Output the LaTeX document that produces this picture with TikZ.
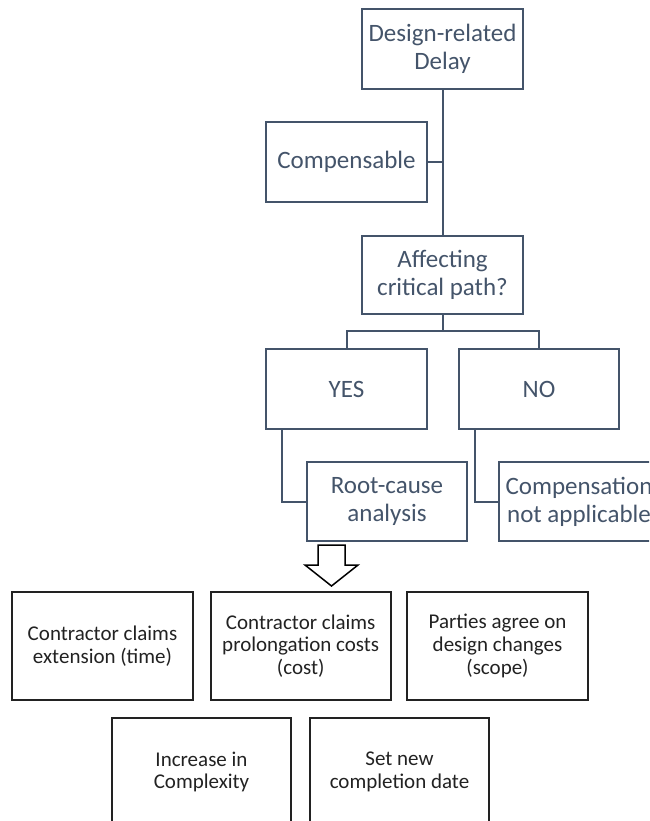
\documentclass[tikz,border=0pt]{standalone}
\usepackage{fontspec}
\setmainfont{Carlito}
\definecolor{slate}{HTML}{44546A}
\definecolor{ink}{HTML}{222222}
\begin{document}
\begin{tikzpicture}[x=1pt,y=-1pt,
  tbox/.style={draw=slate, line width=2pt, text=slate, align=center, inner sep=2pt,
    font=\fontsize{25}{28}\selectfont, minimum width=161pt, minimum height=80pt},
  bbox/.style={draw=ink, line width=1.8pt, text=ink, align=center, inner sep=2pt,
    font=\fontsize{21}{22.7}\selectfont, minimum width=181pt, minimum height=108pt},
  conn/.style={draw=slate, line width=2pt},
  blockarrow/.style={draw=black, line width=1.5pt, fill=white, line join=miter}]
\path[use as bounding box] (0,0) rectangle (649,821);
\clip (0,0) rectangle (649,821);

% top tree
\node[tbox] (design) at (442.5,49) {Design-related\\Delay};
\node[tbox] (comp) at (346.5,162) {Compensable};
\node[tbox, minimum height=78pt] (affect) at (442.5,275) {Affecting\\critical path?};
\node[tbox] (yes) at (346.5,389) {YES};
\node[tbox, minimum width=160pt] (no) at (539,389) {NO};
\node[tbox, minimum width=160pt, minimum height=79pt] (root) at (387,501.5) {Root-cause\\analysis};
\node[tbox, minimum width=160pt, minimum height=79pt] (napp) at (579,501.5) {Compensation\\not applicable};

\coordinate (split) at (442.5,331);

\draw[conn] (design.south) -- (affect.north);
\draw[conn] (comp.east) -- (comp.east -| design.south);
\draw[conn] (affect.south) -- (split) -| (yes.north);
\draw[conn] (split) -| (no.north);
\draw[conn] ([xshift=16.5pt]yes.south west) |- (root.west);
\draw[conn] ([xshift=16.5pt]no.south west) |- (napp.west);

% block arrow
\coordinate (arr) at (331.5,545);
\draw[blockarrow] (arr) ++(-13.5,0) -- ++(27,0) -- ++(0,20) -- ++(13,0)
  -- (331.5,586) -- (305,565) -- ++(13,0) -- cycle;

% bottom boxes
\node[bbox] (b1) at (102.5,646) {Contractor claims\\extension (time)};
\node[bbox, minimum width=180pt] (b2) at (300.7,646) {Contractor claims\\prolongation costs\\(cost)};
\node[bbox] (b3) at (497.5,646) {Parties agree on\\design changes\\(scope)};
\node[bbox, minimum width=179pt] (b4) at (201.5,772) {Increase in\\Complexity};
\node[bbox, minimum width=179pt] (b5) at (399.5,772) {Set new\\completion date};
\end{tikzpicture}
\end{document}
